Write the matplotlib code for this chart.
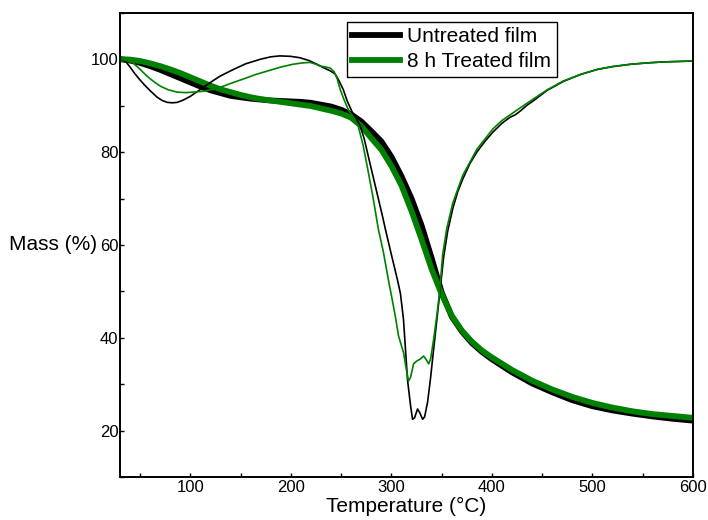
import matplotlib
matplotlib.use("Agg")
import matplotlib.pyplot as plt
from matplotlib.ticker import MultipleLocator

plt.rcParams['font.family'] = ['Liberation Sans', 'DejaVu Sans']

# TGA (mass loss) curves - thick lines
tga_temp = [30, 40, 50, 60, 70, 80, 90, 100, 110, 120, 130, 140, 150, 160, 170, 180, 190,
            200, 210, 220, 230, 240, 250, 260, 270, 280, 290, 300, 310, 320, 330, 340, 350,
            360, 370, 380, 390, 400, 420, 440, 460, 480, 500, 520, 540, 560, 580, 600]
tga_untreated = [100.0, 99.7, 99.2, 98.5, 97.7, 96.8, 95.9, 95.0, 94.1, 93.3, 92.7, 92.1,
                 91.8, 91.5, 91.3, 91.1, 91.0, 90.9, 90.8, 90.6, 90.2, 89.8, 89.1, 88.1,
                 86.6, 84.5, 82.3, 79.0, 74.8, 70.0, 64.2, 57.2, 49.8, 44.6, 41.4, 38.9,
                 37.0, 35.4, 32.6, 30.2, 28.3, 26.6, 25.3, 24.4, 23.7, 23.1, 22.6, 22.2]
tga_treated = [100.0, 99.9, 99.6, 99.1, 98.5, 97.8, 97.0, 96.1, 95.2, 94.3, 93.5, 92.9,
               92.3, 91.8, 91.4, 91.1, 90.8, 90.5, 90.2, 89.9, 89.4, 88.9, 88.3, 87.4,
               85.6, 83.0, 80.5, 77.0, 72.8, 67.3, 61.2, 54.8, 49.4, 44.8, 41.6, 39.2,
               37.3, 35.8, 33.1, 30.8, 28.9, 27.3, 26.0, 25.0, 24.2, 23.6, 23.2, 22.8]

# DTG curves - thin lines
dtg_temp_u = [30, 33, 36, 40, 45, 50, 55, 60, 67, 72, 77, 82, 87, 93, 100, 110, 120, 130,
              143, 155, 170, 180, 189, 200, 209, 218, 226, 232, 239, 244, 248, 252, 256,
              261, 265, 269, 273, 277, 284, 291, 294, 299, 306, 309, 312, 316, 319, 321,
              323, 326, 328, 331, 333, 336, 339, 342, 345, 348, 352, 356, 361, 366, 371,
              378, 385, 393, 401, 410, 418, 423, 428, 435, 441, 455, 471, 488, 505, 520,
              538, 555, 570, 585, 600]
dtg_untreated = [100.0, 99.8, 99.4, 98.3, 96.8, 95.5, 94.3, 93.2, 91.8, 91.1, 90.7, 90.6,
                 90.7, 91.2, 92.0, 93.5, 95.0, 96.4, 97.8, 99.0, 100.0, 100.5, 100.7,
                 100.6, 100.3, 99.7, 98.9, 98.2, 97.5, 96.8, 95.3, 93.5, 91.0, 88.6, 87.2,
                 85.6, 82.8, 79.1, 72.7, 66.3, 63.4, 58.8, 52.5, 49.5, 44.0, 31.0, 25.5,
                 22.5, 22.8, 24.7, 24.0, 22.5, 23.0, 26.2, 31.5, 37.6, 43.5, 49.5, 57.5,
                 63.0, 67.8, 71.5, 74.2, 77.5, 80.0, 82.3, 84.3, 86.2, 87.5, 88.0, 88.8,
                 90.1, 91.0, 93.3, 95.2, 96.7, 97.8, 98.4, 98.9, 99.2, 99.4, 99.5, 99.6]

dtg_temp_t = [30, 37, 43, 50, 57, 64, 70, 78, 87, 95, 103, 113, 123, 133, 143, 155, 165,
              176, 190, 202, 212, 219, 225, 229, 235, 239, 243, 246, 249, 253, 257, 262,
              267, 272, 277, 282, 287, 292, 297, 301, 304, 307, 310, 312, 315, 317, 319,
              322, 325, 329, 332, 335, 337, 339, 342, 345, 348, 351, 355, 361, 371, 385,
              401, 410, 418, 428, 441, 455, 471, 488, 505, 520, 538, 555, 570, 585, 600]
dtg_treated = [100.0, 99.8, 99.2, 97.8, 96.3, 95.1, 94.2, 93.4, 92.9, 92.8, 92.9, 93.1,
               93.5, 94.2, 95.0, 95.9, 96.7, 97.4, 98.3, 98.9, 99.2, 99.3, 98.9, 98.5,
               98.3, 98.1, 97.3, 95.8, 93.5, 91.2, 89.2, 87.5, 85.6, 81.3, 75.7, 69.9,
               63.4, 58.5, 52.5, 48.0, 44.5, 40.5, 38.3, 36.9, 33.0, 30.7, 31.5, 34.4,
               35.0, 35.5, 36.1, 35.2, 34.4, 35.5, 39.7, 44.5, 50.0, 58.0, 63.5, 69.0,
               75.0, 80.6, 85.0, 86.8, 88.0, 89.5, 91.4, 93.4, 95.3, 96.7, 97.8, 98.4,
               98.9, 99.2, 99.4, 99.5, 99.6]

labels = ['Untreated film', '8 h Treated film']
colors = ['black', 'green']

fig = plt.figure(figsize=(7.08, 5.2), dpi=100)
ax = fig.add_axes([0.1695, 0.0821, 0.8093, 0.8935])

ax.plot(tga_temp, tga_untreated, color=colors[0], lw=4.2, label=labels[0])
ax.plot(tga_temp, tga_treated, color=colors[1], lw=4.2, label=labels[1])
ax.plot(dtg_temp_u, dtg_untreated, color=colors[0], lw=1.2)
ax.plot(dtg_temp_t, dtg_treated, color=colors[1], lw=1.2)

ax.set_xlim(30, 600)
ax.set_ylim(10, 110)
ax.xaxis.set_major_locator(MultipleLocator(100))
ax.xaxis.set_minor_locator(MultipleLocator(50))
ax.yaxis.set_major_locator(MultipleLocator(20))
ax.yaxis.set_minor_locator(MultipleLocator(10))
ax.tick_params(which='both', direction='in', length=3, width=1, labelsize=12, pad=2)
ax.tick_params(axis='y', which='both', pad=1)

for s in ax.spines.values():
    s.set_linewidth(1.4)

ax.set_xlabel('Temperature (°C)', fontsize=15, labelpad=1)
ax.set_ylabel('Mass (%)', fontsize=15, rotation=0, ha='center', va='center')
ax.yaxis.set_label_coords(-0.117, 0.5)

leg = ax.legend(loc='upper left', bbox_to_anchor=(0.396, 0.98), borderaxespad=0,
                fontsize=15, handlelength=2.3, handletextpad=0.35, borderpad=0.25,
                labelspacing=0.3, fancybox=False, framealpha=1, edgecolor='black')
leg.get_frame().set_linewidth(1.0)

fig.savefig('out.png', dpi=100)
